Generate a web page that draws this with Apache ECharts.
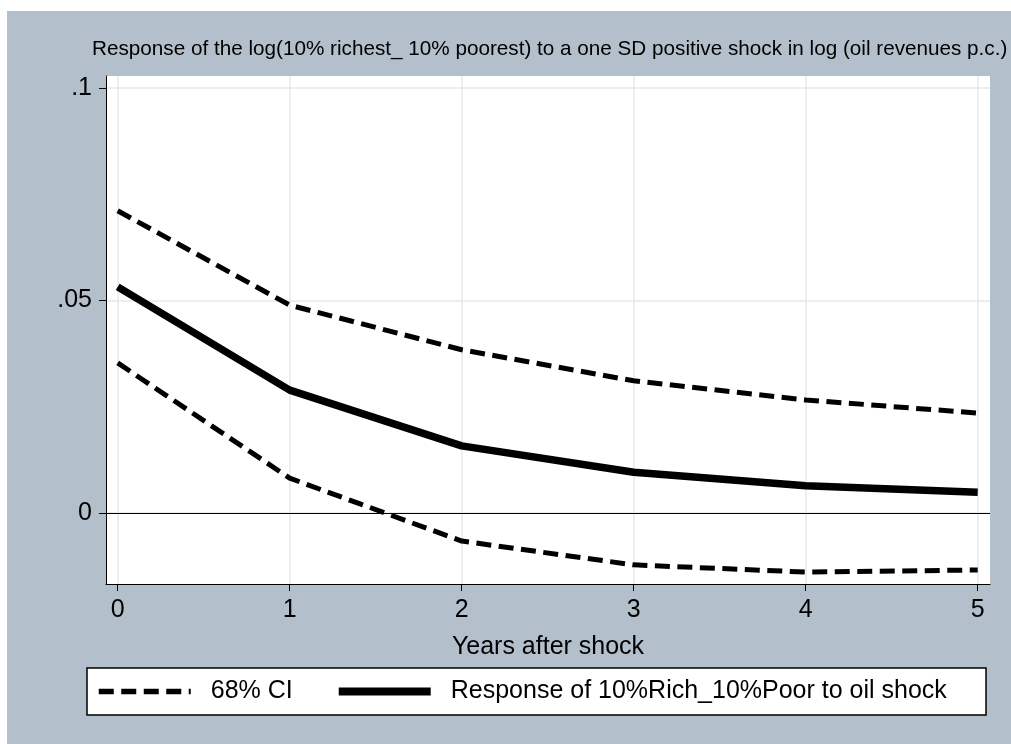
<!DOCTYPE html>
<html>
<head>
<meta charset="utf-8">
<script src="https://cdn.jsdelivr.net/npm/echarts@6/dist/echarts.min.js"></script>
<style>
html,body{margin:0;padding:0;background:#fff;}
#wrap{position:relative;width:1011px;height:744px;background:#fff;}
#bg{position:absolute;left:7px;top:11px;right:0;bottom:0;background:#b3bfcb;}
#main{position:absolute;left:0;top:0;width:1011px;height:744px;}
</style>
</head>
<body>
<div id="wrap"><div id="bg"></div><div id="main"></div></div>
<script>
// years after the shock
var years = [0, 1, 2, 3, 4, 5];
// impulse response and 68% band
var response = [0.0532, 0.0289, 0.0158, 0.0096, 0.0064, 0.0049];
var upperCI = [0.0711, 0.0489, 0.0384, 0.0311, 0.0266, 0.0235];
var lowerCI = [0.0353, 0.0082, -0.0066, -0.0122, -0.0139, -0.0134];
var xTicks = [0, 1, 2, 3, 4, 5];
var yTicks = [0, 0.05, 0.1];
var yTickLabels = ['0', '.05', '.1'];

var font = "'Liberation Sans', Arial, sans-serif";
var ciName = '68% CI';
var respName = 'Response of 10%Rich_10%Poor to oil shock';

function pairs(v){
  var out = [];
  for (var i = 0; i < years.length; i++) out.push([years[i], v[i]]);
  return out;
}

var chart = echarts.init(document.getElementById('main'));
var opt = {
  backgroundColor: 'transparent',
  animation: false,
  title: {
    text: 'Response of the log(10% richest_ 10% poorest) to a one SD positive shock in log (oil revenues p.c.)',
    left: 92, top: 39, padding: 0,
    textStyle: {fontFamily: font, fontSize: 20.7, fontWeight: 'normal', color: '#000'}
  },
  legend: {
    left: 96, top: 679, padding: 0,
    itemWidth: 92, itemHeight: 20, itemGap: 42,
    itemStyle: {opacity: 0},
    textStyle: {fontFamily: font, fontSize: 25, color: '#000', padding: [0, 0, 0, 15]},
    data: [
      {name: ciName, lineStyle: {width: 5.5, type: [15, 7.5], color: '#000'}},
      {name: respName, lineStyle: {width: 8, type: 'solid', color: '#000'}}
    ]
  },
  graphic: [{
    type: 'rect', z: -1,
    shape: {x: 87, y: 668, width: 899, height: 47},
    style: {fill: '#fff', stroke: '#000', lineWidth: 1.5}
  }],
  grid: {
    left: 106, top: 76, right: 21, bottom: 160,
    show: true, backgroundColor: '#fff', borderWidth: 0
  },
  xAxis: {
    type: 'value', min: -0.068, max: 5.0715,
    name: 'Years after shock', nameLocation: 'middle', nameGap: 51,
    nameTextStyle: {fontFamily: font, fontSize: 25, color: '#000'},
    axisLine: {show: true, onZero: false, lineStyle: {color: '#000', width: 1}},
    axisTick: {show: true, length: 7, customValues: xTicks, lineStyle: {color: '#000'}},
    axisLabel: {customValues: xTicks, fontFamily: font, fontSize: 25, color: '#000', margin: 14},
    splitLine: {show: true, lineStyle: {color: '#e8e8e8', width: 1.5}}
  },
  yAxis: {
    type: 'value', min: -0.0167, max: 0.1028,
    axisLine: {show: true, onZero: false, lineStyle: {color: '#000', width: 1}},
    axisTick: {show: true, length: 7, customValues: yTicks, lineStyle: {color: '#000'}},
    axisLabel: {
      customValues: yTicks, fontFamily: font, fontSize: 25, color: '#000', margin: 14,
      formatter: function (v) {
        var i = yTicks.indexOf(v);
        return i >= 0 ? yTickLabels[i] : '';
      }
    },
    splitLine: {show: true, lineStyle: {color: '#e8e8e8', width: 1.5}}
  },
  series: [{
    name: ciName, type: 'line', data: pairs(upperCI),
    symbol: 'none', color: '#000',
    lineStyle: {color: '#000', width: 5, type: [15, 7.5]},
    markLine: {
      silent: true, symbol: 'none', label: {show: false},
      lineStyle: {color: '#000', width: 1, type: 'solid'},
      data: [{yAxis: 0}]
    }
  }, {
    name: ciName, type: 'line', data: pairs(lowerCI),
    symbol: 'none', color: '#000',
    lineStyle: {color: '#000', width: 5, type: [15, 7.5]}
  }, {
    name: respName, type: 'line', data: pairs(response),
    symbol: 'none', color: '#000',
    lineStyle: {color: '#000', width: 7.5}
  }]
};
chart.setOption(opt);
</script>
</body>
</html>
